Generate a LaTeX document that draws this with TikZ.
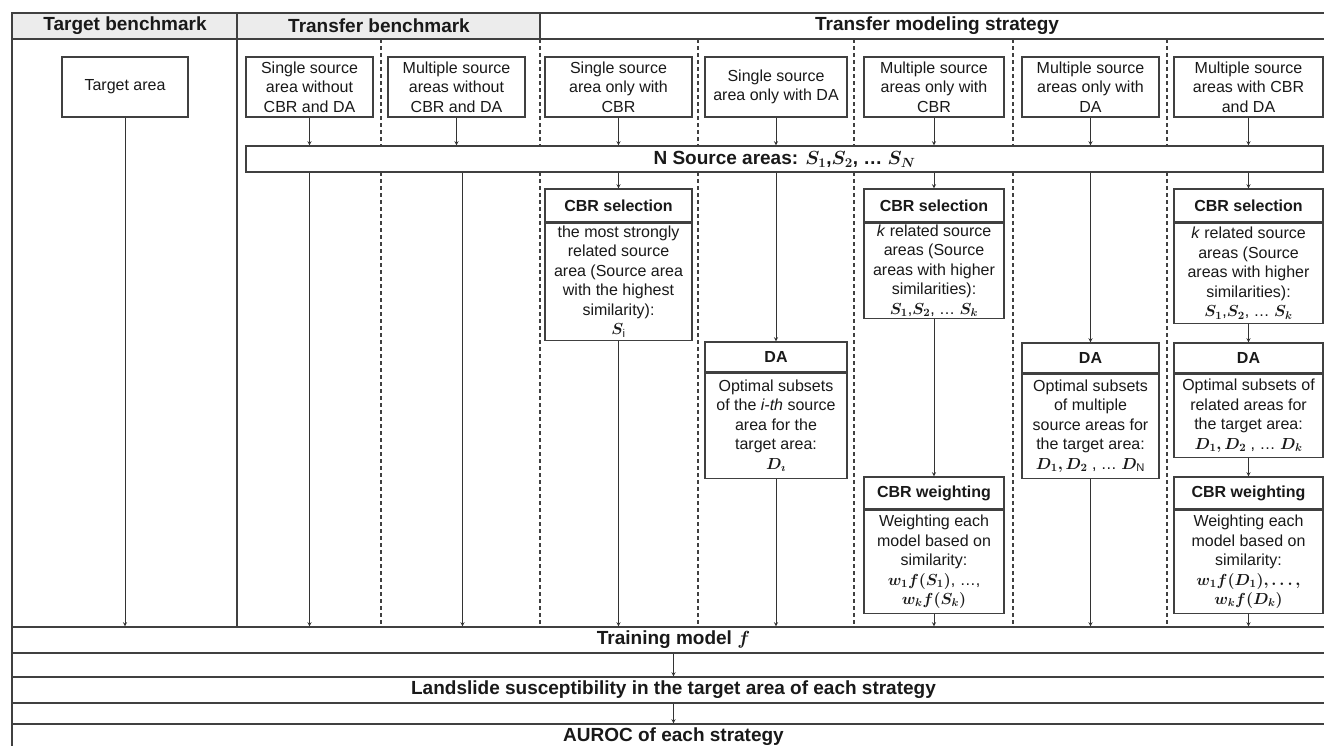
\RequirePackage{fix-cm}
\documentclass[tikz,border=0pt]{standalone}
\usepackage{fontspec}
\setmainfont{Liberation Sans}
\usepackage{bm}
\usetikzlibrary{shapes.geometric, arrows, positioning}
\tikzstyle{box} = [rectangle, draw=black!75, line width=1.2pt, fill=white, align=center, inner sep=1pt, text=black!90, font=\fontsize{16}{19.5}\selectfont]
\tikzstyle{top} = [box, minimum height=60pt]
\tikzstyle{head} = [box, font=\bfseries\fontsize{16}{19.5}\selectfont]
\tikzstyle{band} = [box, inner sep=0pt, minimum height=26pt, font=\bfseries\fontsize{19}{22}\selectfont]
\tikzstyle{heading} = [text=black!90, font=\bfseries\fontsize{19}{22}\selectfont]
\tikzstyle{border} = [draw=black!75, line width=1.2pt]
\tikzstyle{divide} = [border, dash pattern=on 4pt off 3pt]
\tikzstyle{arrow} = [draw=black!80, line width=0.9pt, ->, >=stealth]

\begin{document}
\begin{tikzpicture}[x=1pt, y=-1pt]
			\useasboundingbox (0,0) rectangle (1324,745);
			\fill[gray!15] (12,13) rectangle (540,39);
			\draw[border] (12,13) rectangle (1335,760);
			\draw[border] (12,39) -- (1335,39);
			\draw[border] (237,13) -- (237,627);
			\draw[border] (540,13) -- (540,39);
			\foreach \x in {381,540,698,854,1013,1167}
				\draw[divide] (\x,39) -- (\x,627);
			
			\node[heading] at (125,26) {Target benchmark};
			\node[heading] at (379,26) {Transfer benchmark};
			\node[heading] at (937,26) {Transfer modeling strategy};
			
			\node[top, minimum width=126pt] (1) at (125,87) {Target area};
			\node[top, minimum width=127pt] (2) at (309.5,87) {Single source\\area without\\CBR and DA};
			\node[top, minimum width=137pt] (3) at (456.5,87) {Multiple source\\areas without\\CBR and DA};
			\node[top, minimum width=147pt] (4) at (618.5,87) {Single source\\area only with\\CBR};
			\node[top, minimum width=142pt] (5) at (776,87) {Single source\\area only with DA};
			\node[top, minimum width=140pt] (6) at (934,87) {Multiple source\\areas only with\\CBR};
			\node[top, minimum width=137pt] (7) at (1090.5,87) {Multiple source\\areas only with\\DA};
			\node[top, minimum width=149pt] (8) at (1248.5,87) {Multiple source\\areas with CBR\\and DA};
			
			\node[band, minimum width=1077pt] (9) at (784.5,159) {N Source areas: $\bm{S_1}$,$\bm{S_2}$, \dots\ $\bm{S_N}$};
			\node[band, minimum width=1323pt] (10) at (673.5,640) {Training model $\bm{f}$};
			\node[band, minimum width=1323pt] (11) at (673.5,690) {Landslide susceptibility in the target area of each strategy};
			\node[band, minimum width=1323pt] (12) at (673.5,737) {AUROC of each strategy};
			
			\node[head, minimum width=147pt, minimum height=33pt] (13) at (618.5,205.5) {CBR selection};
			\node[box, minimum width=147pt, minimum height=117pt, below=0pt of 13] (14) {the most strongly\\related source\\area (Source area\\with the highest\\similarity):\\$\bm{S}_{\mathrm{i}}$};
			
			\node[head, minimum width=142pt, minimum height=30pt] (15) at (776,357) {DA};
			\node[box, minimum width=142pt, minimum height=105pt, below=0pt of 15] (16) {Optimal subsets\\of the \textit{i-th} source\\area for the\\target area:\\$\bm{D_\imath}$};
			
			\node[head, minimum width=140pt, minimum height=33pt] (17) at (934,205.5) {CBR selection};
			\node[box, minimum width=140pt, minimum height=95pt, below=0pt of 17] (18) {\textit{k} related source\\areas (Source\\areas with higher\\similarities):\\$\bm{S_1}$,$\bm{S_2}$, \dots\ $\bm{S_k}$};
			\node[head, minimum width=140pt, minimum height=32pt] (19) at (934,493) {CBR weighting};
			\node[box, minimum width=140pt, minimum height=103pt, below=0pt of 19] (20) {Weighting each\\model based on\\similarity:\\$\bm{w_1f(S_1)}$, \dots,\\$\bm{w_kf(S_k)}$};
			
			\node[head, minimum width=137pt, minimum height=30pt] (21) at (1090.5,358) {DA};
			\node[box, minimum width=137pt, minimum height=104pt, below=0pt of 21] (22) {Optimal subsets\\of multiple\\source areas for\\the target area:\\$\bm{D_1, D_2}$ , \dots\ $\bm{D}_{\mathrm{N}}$};
			
			\node[head, minimum width=149pt, minimum height=33pt] (23) at (1248.5,205.5) {CBR selection};
			\node[box, minimum width=149pt, minimum height=100pt, below=0pt of 23] (24) {\textit{k} related source\\areas (Source\\areas with higher\\similarities):\\$\bm{S_1}$,$\bm{S_2}$, \dots\ $\bm{S_k}$};
			\node[head, minimum width=149pt, minimum height=30pt] (25) at (1248.5,358) {DA};
			\node[box, minimum width=149pt, minimum height=83pt, below=0pt of 25] (26) {Optimal subsets of\\related areas for\\the target area:\\$\bm{D_1, D_2}$ , \dots\ $\bm{D_k}$};
			\node[head, minimum width=149pt, minimum height=32pt] (27) at (1248.5,493) {CBR weighting};
			\node[box, minimum width=149pt, minimum height=103pt, below=0pt of 27] (28) {Weighting each\\model based on\\similarity:\\$\bm{w_1f(D_1), \dots,}$\\$\bm{w_kf(D_k)}$};
			
			\coordinate (3a) at ([xshift=6pt]3.south);
			\draw [arrow] (1) -- (1 |- 10.north);
			\foreach \n in {2,...,8}
				\draw [arrow] (\n) -- (\n |- 9.north);
			\draw [arrow] (2 |- 9.south) -- (2 |- 10.north);
			\draw [arrow] (3a |- 9.south) -- (3a |- 10.north);
			\draw [arrow] (4 |- 9.south) -- (13);
			\draw [arrow] (14) -- (14 |- 10.north);
			\draw [arrow] (5 |- 9.south) -- (15);
			\draw [arrow] (16) -- (16 |- 10.north);
			\draw [arrow] (6 |- 9.south) -- (17);
			\draw [arrow] (18) -- (19);
			\draw [arrow] (20) -- (20 |- 10.north);
			\draw [arrow] (7 |- 9.south) -- (21);
			\draw [arrow] (22) -- (22 |- 10.north);
			\draw [arrow] (8 |- 9.south) -- (23);
			\draw [arrow] (24) -- (25);
			\draw [arrow] (26) -- (27);
			\draw [arrow] (28) -- (28 |- 10.north);
			\draw [arrow] (10) -- (11);
			\draw [arrow] (11) -- (12);
			
		\end{tikzpicture}
\end{document}
